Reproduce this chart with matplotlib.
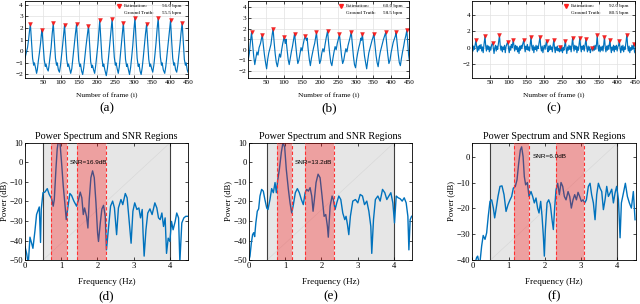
import matplotlib.pyplot as plt

plt.rcParams["font.family"] = ["Liberation Serif", "DejaVu Serif"]

# ---------------- top row: waveforms with detected peaks ----------------
a_frame = [1, 4, 8, 11, 14, 16,
           19, 22, 25, 27, 30, 33, 35, 38, 41, 44, 46, 48,
           51, 54, 57, 59, 62, 65, 67, 70, 73, 76, 79,
           82, 85, 88, 90, 93, 96, 99, 102, 105, 108, 110,
           113, 116, 119, 121, 124, 127, 130, 133, 136, 140, 143,
           146, 149, 152, 154, 157, 160, 163, 166, 169, 173, 176,
           179, 182, 185, 187, 190, 193, 196, 199, 202, 205, 207,
           210, 213, 216, 218, 221, 225, 228, 231, 234, 238, 241,
           244, 247, 250, 252, 255, 258, 261, 264, 267, 270, 272,
           275, 278, 281, 283, 286, 289, 292, 295, 298, 301, 304,
           307, 310, 313, 315, 318, 321, 324, 327, 330, 333, 336,
           339, 342, 345, 347, 350, 353, 356, 359, 362, 365, 368,
           371, 374, 377, 379, 382, 386, 389, 392, 395, 399, 402,
           405, 408, 411, 413, 416, 419, 422, 425, 428, 431, 434,
           437, 440, 443, 445, 448, 450]
a_value = [-0.6, -0.2, 0.3, 1.0, 1.9, 2.3,
           0.8, -0.6, -1.2, -1.0, -1.4, -1.9, -1.6, -0.8, -0.1, 0.7, 1.4, 1.85,
           0.6, -0.7, -1.3, -1.1, -1.5, -1.7, -1.3, -0.5, 0.3, 1.5, 2.4,
           0.9, -0.6, -1.2, -1.0, -1.6, -1.8, -1.2, -0.3, 0.6, 1.6, 2.25,
           0.8, -0.7, -1.3, -1.1, -1.5, -1.9, -1.5, -0.6, 0.3, 1.5, 2.3,
           0.7, -0.8, -1.3, -1.1, -1.7, -2.0, -1.4, -0.5, 0.4, 1.4, 2.2,
           0.6, -0.9, -1.4, -1.2, -1.6, -1.9, -1.2, -0.3, 0.6, 1.8, 2.65,
           1.0, -0.6, -1.3, -1.1, -1.6, -2.1, -1.5, -0.6, 0.4, 1.7, 2.75,
           1.0, -0.5, -1.2, -1.0, -1.5, -1.9, -1.3, -0.3, 0.7, 1.7, 2.45,
           0.9, -0.7, -1.3, -1.1, -1.6, -2.0, -1.4, -0.5, 0.5, 1.8, 2.85,
           1.0, -0.6, -1.3, -1.1, -1.7, -2.0, -1.4, -0.5, 0.5, 1.5, 2.3,
           0.8, -0.7, -1.3, -1.1, -1.5, -1.8, -1.2, -0.3, 0.7, 1.9, 2.85,
           1.0, -0.5, -1.2, -1.0, -1.6, -1.9, -1.3, -0.4, 0.5, 1.7, 2.65,
           0.9, -0.6, -1.2, -1.0, -1.6, -1.8, -1.2, -0.3, 0.6, 1.6, 2.45,
           0.8, -0.7, -1.2, -1.0, -1.6, -1.8]
a_peak_frame = [16, 48, 79, 110, 143, 176, 207, 241, 272, 304, 336, 368, 402, 434]
a_peak_value = [2.3, 1.85, 2.4, 2.25, 2.3, 2.2, 2.65, 2.75, 2.45, 2.85, 2.3, 2.85, 2.65, 2.45]

b_frame = [1, 4, 7, 10,
           13, 16, 19, 22, 25, 28, 31, 35, 38, 40,
           43, 46, 49, 52, 55, 58, 61, 64, 67, 70,
           73, 76, 79, 82, 85, 88, 91, 94, 97, 99, 101,
           104, 106, 109, 112, 115, 118, 121, 124, 127, 130,
           133, 136, 139, 142, 145, 148, 151, 154, 157, 160,
           163, 165, 168, 171, 174, 177, 180, 183, 186, 189, 191,
           194, 197, 200, 203, 206, 209, 212, 215, 218, 222,
           225, 228, 231, 234, 237, 240, 243, 246, 249, 252, 255,
           258, 261, 264, 267, 270, 273, 276, 279, 282, 285, 288,
           291, 294, 297, 300, 303, 306, 309, 312, 315, 317, 319,
           322, 325, 328, 331, 334, 337, 340, 343, 346, 349, 351,
           354, 357, 360, 363, 366, 369, 372, 375, 378, 381, 384,
           387, 390, 393, 396, 399, 402, 405, 408, 411, 413,
           416, 419, 422, 425, 428, 431, 434, 437, 440, 443,
           446, 448, 450]
b_value = [-0.9, -0.3, 0.8, 1.63,
           0.5, -0.6, -1.4, -0.8, -0.2, -0.5, 0.2, 0.6, 1.1, 1.44,
           0.4, -0.5, -1.2, -1.8, -0.9, -0.3, 0.1, 0.5, 1.3, 2.0,
           0.7, -0.4, -1.2, -1.6, -1.0, -0.4, -0.7, 0.0, 0.6, 0.9, 1.21,
           0.6, 1.0, 0.0, -0.9, -1.4, -0.8, -0.2, 0.3, 0.9, 1.53,
           0.5, -0.5, -1.3, -1.0, -0.4, 0.2, -0.1, 0.5, 1.0, 1.28,
           0.9, 1.1, 0.0, -0.9, -1.5, -0.8, -0.3, 0.2, 0.6, 1.2, 1.63,
           0.5, -0.5, -1.3, -1.0, -0.3, 0.1, -0.2, 0.5, 1.1, 1.78,
           0.6, -0.4, -1.2, -1.5, -0.8, -0.2, 0.3, 0.0, 0.6, 1.0, 1.47,
           0.4, -0.6, -1.3, -1.0, -0.4, 0.1, -0.2, 0.4, 0.8, 1.2, 1.69,
           0.5, -0.6, -1.4, -1.7, -0.9, -0.3, 0.2, 0.6, 1.1, 0.9, 1.53,
           0.4, -0.6, -1.2, -1.8, -1.0, -0.3, 0.1, 0.5, 0.9, 1.2, 1.53,
           0.5, -0.5, -1.2, -1.6, -0.8, -0.2, 0.2, 0.6, 1.0, 1.3, 1.63,
           0.5, -0.5, -1.3, -1.0, -0.3, 0.2, 0.7, 1.0, 1.3, 1.63,
           0.6, -0.4, -1.2, -1.5, -0.8, -0.2, 0.3, 0.9, 1.3, 1.84,
           0.4, -0.5, -1.0]
b_peak_frame = [10, 40, 70, 101, 130, 160, 191, 222, 255, 288, 319, 351, 384, 413, 443]
b_peak_value = [1.63, 1.44, 2.0, 1.21, 1.53, 1.28, 1.63, 1.78, 1.47, 1.69, 1.53, 1.53, 1.63, 1.63, 1.84]

c_frame = [1, 3, 5, 7, 9, 11, 13, 15, 17, 19, 21, 23, 25, 27, 29, 31, 33, 36,
           38, 40, 42, 44, 46, 48, 50, 52, 54, 57, 59, 61, 63, 65, 67, 69, 71, 73, 76,
           78, 80, 82, 84, 86, 88, 90, 92, 94, 96, 99, 101, 103, 105, 107, 109, 111, 114,
           116, 118, 120, 122, 124, 126, 128, 130, 132, 134, 136, 138, 140, 143,
           145, 147, 149, 151, 153, 155, 157, 159, 161, 163, 165, 167, 169, 171, 173,
           175, 177, 179, 181, 183, 185, 188, 190, 192, 194, 196, 198, 200, 202, 204, 206,
           208, 210, 212, 214, 216, 218, 220, 222, 224, 226, 228, 230, 232, 234, 236,
           238, 240, 242, 244, 246, 248, 250, 252, 254, 256, 258, 260, 262, 264, 266,
           268, 270, 272, 274, 276, 278, 280, 282, 284, 286, 288, 290, 292, 294, 296, 298,
           300, 302, 304, 306, 308, 310, 312, 315, 317, 319, 321, 323, 325, 327, 329, 332,
           334, 336, 338, 340, 342, 344, 346, 348, 350, 352, 354, 356, 358, 360, 362, 364, 366,
           368, 370, 372, 374, 376, 378, 381, 383, 385, 387, 389, 391, 393, 395, 397, 399,
           401, 403, 405, 407, 409, 411, 413, 415, 417, 419, 421, 423, 425, 428,
           430, 432, 434, 436, 438, 440, 442, 444, 447, 449, 450]
c_value = [0.3, -0.4, 0.2, -0.2, 0.4, 0.9, 0.1, -0.5, 0.2, -0.3, 0.3, -0.1, 0.4, -0.4, 0.1, -0.6, 0.3, 1.4,
           0.2, -0.4, 0.3, -0.2, 0.2, -0.5, 0.1, -0.3, 0.3, 0.6, -0.1, -0.7, 0.0, 0.3, -0.4, 0.2, -0.2, 0.5, 1.5,
           0.3, -0.3, 0.2, -0.5, 0.1, -0.2, 0.3, -0.6, 0.1, 0.4, 0.75, -0.1, -0.6, 0.2, -0.3, 0.4, 0.0, 1.0,
           0.2, -0.4, 0.3, -0.2, 0.2, -0.5, 0.0, -0.7, 0.2, -0.3, 0.3, -0.1, 0.4, 0.9,
           0.1, -0.5, 0.2, -0.2, 0.4, -0.3, 0.1, -0.4, 0.5, 1.3, 0.2, -0.3, 0.3, -0.6, 0.1,
           -0.2, 0.3, -0.4, 0.2, -0.1, 0.5, 1.3, 0.1, -0.4, 0.2, -0.6, 0.0, 0.3, -0.2, 0.4, 0.85,
           -0.1, -0.5, 0.2, -0.3, 0.3, -0.2, 0.1, -0.5, 0.3, 0.9, 0.0, -0.6, 0.1, -0.3, 0.2,
           -0.4, -0.1, -0.5, 0.1, -0.4, 0.2, -0.6, 0.0, -0.3, 0.3, 0.8, -0.1, -0.7, 0.1, -0.3,
           0.3, -0.2, 0.2, -0.5, 0.4, 1.2, 0.2, -0.4, 0.3, -0.2, 0.2, -0.6, 0.1, -0.3, 0.5, 1.2,
           0.1, -0.5, 0.2, -0.2, 0.3, -0.4, 0.2, 1.1, 0.0, -0.5, 0.2, -0.3, 0.1, -0.6, -0.2, 0.0,
           -0.4, 0.2, -0.3, 0.3, -0.2, 0.4, 1.55, 0.2, -0.4, 0.3, -0.5, 0.1, -0.3, 0.2, -0.4, 0.4, 1.35,
           0.1, -0.5, 0.2, -0.3, 0.3, -0.2, 1.0, 0.0, -0.6, 0.1, -0.3, 0.3, -0.5, 0.2, -0.2, 0.3,
           -0.4, 0.1, 0.3, 0.85, -0.1, -0.6, 0.2, -0.3, 0.3, -0.5, 0.1, -0.2, 0.5, 1.6,
           0.2, -0.4, 0.2, -0.6, 0.0, -0.3, 0.3, -0.2, 0.4, -0.5, -0.6]
c_peak_frame = [11, 36, 57, 76, 99, 114, 143, 163, 188, 206, 226, 244,
                258, 278, 298, 315, 332, 346, 366, 381, 407, 428, 447]
c_peak_value = [0.9, 1.4, 0.6, 1.5, 0.75, 1.0, 0.9, 1.3, 1.3, 0.85, 0.9, 0.1,
                0.8, 1.2, 1.2, 1.1, 0.0, 1.55, 1.35, 1.0, 0.85, 1.6, 0.4]

est_bpm = [56.0, 60.0, 92.0]
gt_bpm = [55.5, 58.5, 80.5]
top_ylim = [(-2.26, 4.35), (-2.62, 4.64), (-3.62, 5.73)]
top_yticks = [[-2, -1, 0, 1, 2, 3, 4], [-2, -1, 0, 1, 2, 3, 4], [-2, 0, 2, 4]]
top_tags = ["(a)", "(b)", "(c)"]

# ---------------- bottom row: power spectra ----------------
d_freq = [0.0, 0.046, 0.092, 0.138, 0.184, 0.22, 0.276, 0.32, 0.395, 0.43, 0.45, 0.497,
          0.55, 0.616, 0.67, 0.736, 0.78, 0.81, 0.855, 0.89, 0.93, 0.966, 1.01, 1.057,
          1.10, 1.14, 1.177, 1.24, 1.287, 1.35, 1.425, 1.48, 1.526, 1.57, 1.61, 1.646,
          1.70, 1.738, 1.775, 1.82, 1.867, 1.913, 1.96, 2.005, 2.03, 2.08, 2.124, 2.17,
          2.216, 2.25, 2.31, 2.363, 2.42, 2.47, 2.53, 2.58, 2.65, 2.70, 2.77, 2.82,
          2.89, 2.93, 2.98, 3.03, 3.09, 3.145, 3.19, 3.237, 3.26, 3.29, 3.34, 3.39,
          3.45, 3.51, 3.586, 3.64, 3.687, 3.733, 3.78, 3.825, 3.87, 3.908, 3.954, 4.0,
          4.046, 4.09, 4.147, 4.19, 4.24, 4.276, 4.33, 4.386, 4.44, 4.5]
d_power = [-43.1, -46.6, -52.0, -38.3, -41.4, -44.0, -35.0, -26.7, -22.8, -41.0, -24.0, -15.5,
           -15.2, -13.4, -16.4, -18.6, -22.4, -19.0, -3.4, 6.9, 12.0, 10.3, 0.0, -12.0,
           -20.7, -29.3, -24.0, -15.9, -16.9, -19.8, -22.4, -19.0, -15.2, -18.1, -26.7, -23.3,
           -27.6, -33.6, -19.0, -7.8, -4.3, -7.8, -20.7, -36.2, -40.5, -31.0, -23.8, -22.0,
           -27.6, -44.8, -32.8, -22.4, -19.8, -23.3, -37.0, -23.3, -19.0, -21.6, -15.9, -18.1,
           -32.8, -41.4, -25.0, -20.7, -24.1, -23.3, -28.4, -24.1, -36.0, -48.0, -34.5, -25.9,
           -23.8, -26.7, -20.7, -23.3, -28.4, -29.3, -25.9, -32.8, -28.4, -46.6, -38.8, -40.5,
           -30.2, -34.5, -30.2, -25.9, -28.4, -51.0, -31.0, -28.4, -27.6, -27.6]

e_freq = [0.0, 0.028, 0.065, 0.10, 0.13, 0.157, 0.19, 0.23, 0.267, 0.304, 0.35, 0.396,
          0.44, 0.49, 0.525, 0.58, 0.627, 0.673, 0.72, 0.756, 0.79, 0.84, 0.894, 0.94,
          0.986, 1.03, 1.088, 1.134, 1.18, 1.226, 1.28, 1.336, 1.39, 1.447, 1.50, 1.55,
          1.594, 1.64, 1.687, 1.733, 1.77, 1.806, 1.852, 1.908, 1.963, 2.018, 2.074, 2.12,
          2.166, 2.19, 2.24, 2.295, 2.33, 2.378, 2.424, 2.48, 2.535, 2.59, 2.645, 2.68,
          2.72, 2.756, 2.80, 2.866, 2.94, 3.005, 3.07, 3.134, 3.19, 3.253, 3.31, 3.364,
          3.39, 3.438, 3.49, 3.558, 3.622, 3.687, 3.75, 3.806, 3.862, 3.917, 3.972, 4.018,
          4.065, 4.12, 4.175, 4.23, 4.286, 4.34, 4.387, 4.415, 4.45, 4.49]
e_power = [-50.0, -48.0, -41.4, -37.0, -36.0, -38.0, -31.0, -25.0, -23.8, -17.2, -13.8, -14.7,
           -19.0, -23.3, -24.1, -19.0, -13.4, -15.5, -10.3, -15.5, -9.5, -3.4, 5.2, 10.3,
           7.8, -3.4, -13.8, -20.7, -25.9, -21.6, -15.5, -13.4, -15.5, -19.0, -21.6, -15.5,
           -13.8, -14.7, -12.9, -17.2, -25.0, -19.0, -10.3, -6.0, -7.8, -17.2, -27.6, -26.7,
           -32.8, -38.3, -22.4, -17.2, -19.0, -24.1, -20.7, -17.2, -19.0, -25.9, -29.3, -27.6,
           -31.9, -37.0, -27.6, -19.8, -19.0, -20.7, -16.4, -17.2, -21.6, -19.8, -25.0, -32.8,
           -46.6, -29.3, -19.0, -17.2, -19.8, -13.8, -15.5, -19.0, -17.2, -15.5, -20.7, -31.0,
           -17.2, -18.1, -18.6, -19.8, -18.1, -20.7, -27.6, -44.8, -29.3, -27.6]

f_freq = [0.0, 0.12, 0.147, 0.175, 0.21, 0.257, 0.30, 0.35, 0.395, 0.44, 0.487, 0.533,
          0.58, 0.616, 0.653, 0.708, 0.763, 0.818, 0.874, 0.93, 0.984, 1.04, 1.085, 1.13,
          1.186, 1.232, 1.278, 1.324, 1.36, 1.40, 1.434, 1.47, 1.517, 1.563, 1.618, 1.664,
          1.71, 1.756, 1.80, 1.839, 1.885, 1.922, 1.959, 1.986, 2.014, 2.06, 2.106, 2.152,
          2.198, 2.234, 2.27, 2.308, 2.354, 2.40, 2.446, 2.492, 2.538, 2.584, 2.64, 2.685,
          2.73, 2.777, 2.823, 2.87, 2.915, 2.96, 3.007, 3.053, 3.10, 3.145, 3.20, 3.246,
          3.29, 3.338, 3.384, 3.43, 3.476, 3.522, 3.568, 3.614, 3.66, 3.706, 3.752, 3.798,
          3.844, 3.89, 3.935, 3.98, 4.03, 4.074, 4.11, 4.166, 4.22, 4.276, 4.33, 4.386,
          4.44, 4.487]
f_power = [-45.0, -39.0, -38.5, -40.4, -41.0, -34.6, -30.5, -32.0, -29.5, -23.0, -17.3, -16.7,
           -19.9, -23.7, -20.5, -15.4, -11.5, -11.3, -14.7, -21.2, -18.6, -16.7, -15.4, -12.2,
           -11.5, -9.0, -2.6, 2.6, 3.8, 0.0, -7.7, -10.9, -10.0, -15.4, -13.5, -15.4,
           -17.9, -16.0, -19.9, -21.8, -17.3, -23.0, -30.8, -38.5, -28.2, -17.9, -16.7, -18.6,
           -24.4, -28.2, -19.9, -12.8, -10.3, -14.7, -10.0, -11.5, -15.4, -16.7, -13.5, -15.4,
           -19.9, -16.7, -14.7, -16.7, -13.8, -15.4, -17.3, -16.7, -17.9, -16.7, -11.5, -10.3,
           -14.7, -17.9, -24.4, -14.7, -10.3, -12.2, -13.5, -20.5, -16.7, -11.5, -15.4, -14.1,
           -12.6, -17.9, -14.1, -11.5, -16.7, -31.4, -17.9, -14.1, -10.3, -15.4, -17.9, -19.9,
           -13.5, -24.4]

snr_db = [16.9, 13.2, 6.0]
snr_text_x = [1.24, 1.27, 1.66]
sig_band = [(0.72, 1.15), (0.78, 1.18), (1.16, 1.56)]
harm_band = [(1.44, 2.25), (1.55, 2.36), (2.30, 3.09)]
noise_band = (0.5, 4.0)
bot_ylim = [(-50, 10), (-50, 10), (-40, 5.3)]
bot_tags = ["(d)", "(e)", "(f)"]

blue = "#0072BD"
fig = plt.figure(figsize=(6.4, 3.04), dpi=100)

top_left = [0.039, 0.388, 0.738]
top_w = [0.2547, 0.2516, 0.254]
bot_left = [0.039, 0.389, 0.738]
bot_w = [0.2547, 0.2547, 0.255]

signals = [(a_frame, a_value, a_peak_frame, a_peak_value),
           (b_frame, b_value, b_peak_frame, b_peak_value),
           (c_frame, c_value, c_peak_frame, c_peak_value)]
spectra = [(d_freq, d_power), (e_freq, e_power), (f_freq, f_power)]


def style_box(ax):
    for s in ax.spines.values():
        s.set_linewidth(0.6)
    ax.tick_params(direction="in", top=True, right=True, length=2.2, width=0.5,
                   labelsize=5.2, pad=1.5)


for i in range(3):
    fr, val, pf, pv = signals[i]
    ax = fig.add_axes([top_left[i], 0.745, top_w[i], 0.253])
    ax.plot(fr, val, color=blue, lw=0.85)
    ax.plot(pf, pv, "v", color="#ff2020", ms=2.8, mec="#e01010", mew=0.3)
    ax.set_xlim(1, 450)
    ax.set_ylim(*top_ylim[i])
    ax.set_xticks(range(50, 451, 50))
    ax.set_yticks(top_yticks[i])
    ax.grid(True, color="#e2e2e2", lw=0.5)
    ax.set_axisbelow(True)
    style_box(ax)
    ax.set_xlabel("Number of frame (i)", fontsize=5.4)
    ax.xaxis.set_label_coords(0.5, -0.19)
    # legend
    ax.plot([0.575], [0.93], "v", color="#ff2020", ms=2.8, transform=ax.transAxes)
    ax.text(0.607, 0.93, "Estimation:", fontsize=3.7, va="center", transform=ax.transAxes)
    ax.text(0.607, 0.84, "Ground Truth:", fontsize=3.7, va="center", transform=ax.transAxes)
    ax.text(0.958, 0.93, f"{est_bpm[i]:.1f} bpm", fontsize=3.7, va="center", ha="right",
            transform=ax.transAxes)
    ax.text(0.958, 0.84, f"{gt_bpm[i]:.1f} bpm", fontsize=3.7, va="center", ha="right",
            transform=ax.transAxes)
    fig.text(top_left[i] + top_w[i] / 2, 0.645, top_tags[i], fontsize=9.5,
             ha="center", va="center")

for i in range(3):
    fq, pw = spectra[i]
    ax = fig.add_axes([bot_left[i], 0.1447, bot_w[i], 0.385])
    y0, y1 = bot_ylim[i]
    ax.axvspan(noise_band[0], noise_band[1], color="#e6e6e6", lw=0, zorder=0)
    ax.plot(noise_band, [y0, y1], color="#d6d6d6", lw=0.4, zorder=0.5)
    for xb in noise_band:
        ax.axvline(xb, color="#404040", lw=0.8, zorder=1)
    ax.plot(fq, pw, color=blue, lw=1.0, zorder=2)
    for lo, hi in (sig_band[i], harm_band[i]):
        ax.axvspan(lo, hi, color="red", alpha=0.3, lw=0, zorder=3)
        ax.axvline(lo, color="#ff3030", lw=0.8, ls=(0, (3, 2)), zorder=4)
        ax.axvline(hi, color="#ff3030", lw=0.8, ls=(0, (3, 2)), zorder=4)
    ax.text(snr_text_x[i], 0, f"SNR={snr_db[i]:.1f}dB", fontsize=4.6, va="center",
            ha="left", family=["Liberation Sans", "DejaVu Sans"], zorder=5)
    ax.set_xlim(0, 4.5)
    ax.set_ylim(y0, y1)
    ax.set_xticks([0, 1, 2, 3, 4])
    style_box(ax)
    ax.tick_params(labelsize=6.2)
    ax.set_title("Power Spectrum and SNR Regions", fontsize=7.3, pad=2.5)
    ax.set_xlabel("Frequency (Hz)", fontsize=6.6)
    ax.xaxis.set_label_coords(0.5, -0.155)
    ax.set_ylabel("Power (dB)", fontsize=6.2)
    ax.yaxis.set_label_coords(-0.105, 0.5)
    fig.text(bot_left[i] + bot_w[i] / 2, 0.024, bot_tags[i], fontsize=9.5,
             ha="center", va="center")

fig.savefig("out.png", dpi=100)
